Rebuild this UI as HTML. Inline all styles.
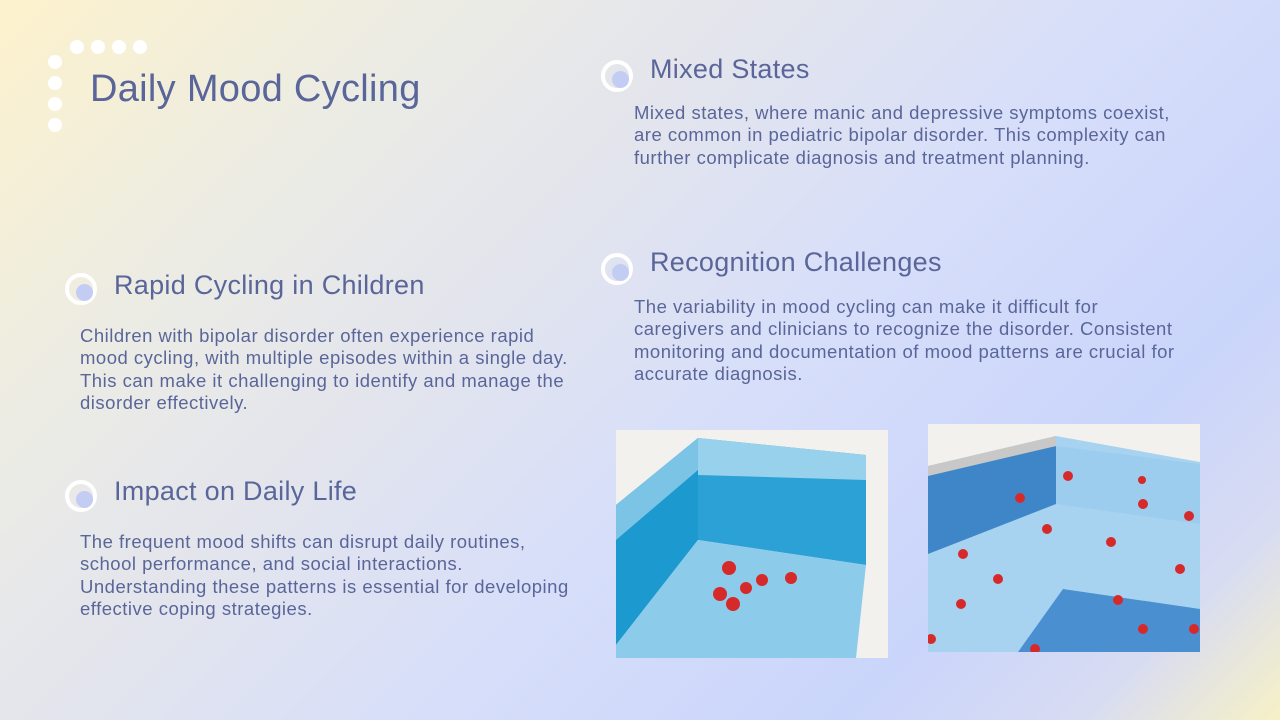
<!DOCTYPE html>
<html><head><meta charset="utf-8"><style>
*{margin:0;padding:0;box-sizing:border-box}
body{width:1280px;height:720px;overflow:hidden;font-family:"Liberation Sans",sans-serif;color:#5a6699;
background:linear-gradient(135deg,#fdf2cc 0%,#ececE4 22%,#e2e4ee 40%,#d6defa 58%,#cad5fb 78%,#d8dcf2 90%,#f7f1c6 100%);position:relative}
.dot{position:absolute;width:14px;height:14px;border-radius:50%;background:#fff}
.bul{position:absolute;width:32px;height:32px;border-radius:50%;border:4px solid #fff}
.bul::after{content:"";position:absolute;left:7px;top:7px;width:17px;height:17px;border-radius:50%;background:#c3cdf4}
h1{position:absolute;left:90px;top:68px;font-size:38px;font-weight:normal;white-space:nowrap;letter-spacing:0.3px}
h2{position:absolute;font-size:27px;font-weight:normal;white-space:nowrap;letter-spacing:0.3px}
p{position:absolute;font-size:18.5px;line-height:22.3px;white-space:nowrap;letter-spacing:0.5px}
svg.img{position:absolute}
</style></head><body>
<div>
<div class="dot" style="left:70px;top:40px"></div><div class="dot" style="left:91px;top:40px"></div><div class="dot" style="left:112px;top:40px"></div><div class="dot" style="left:133px;top:40px"></div>
<div class="dot" style="left:48px;top:55px"></div><div class="dot" style="left:48px;top:76px"></div><div class="dot" style="left:48px;top:97px"></div><div class="dot" style="left:48px;top:118px"></div>
</div>
<h1>Daily Mood Cycling</h1>

<div class="bul" style="left:65px;top:273px"></div>
<h2 style="left:114px;top:270px">Rapid Cycling in Children</h2>
<p style="left:80px;top:325px">Children with bipolar disorder often experience rapid<br>mood cycling, with multiple episodes within a single day.<br>This can make it challenging to identify and manage the<br>disorder effectively.</p>

<div class="bul" style="left:65px;top:480px"></div>
<h2 style="left:114px;top:476px">Impact on Daily Life</h2>
<p style="left:80px;top:531px">The frequent mood shifts can disrupt daily routines,<br>school performance, and social interactions.<br>Understanding these patterns is essential for developing<br>effective coping strategies.</p>

<div class="bul" style="left:601px;top:60px"></div>
<h2 style="left:650px;top:54px">Mixed States</h2>
<p style="left:634px;top:102px">Mixed states, where manic and depressive symptoms coexist,<br>are common in pediatric bipolar disorder. This complexity can<br>further complicate diagnosis and treatment planning.</p>

<div class="bul" style="left:601px;top:253px"></div>
<h2 style="left:650px;top:247px">Recognition Challenges</h2>
<p style="left:634px;top:296px">The variability in mood cycling can make it difficult for<br>caregivers and clinicians to recognize the disorder. Consistent<br>monitoring and documentation of mood patterns are crucial for<br>accurate diagnosis.</p>

<svg class="img" style="left:616px;top:430px" width="272" height="228" viewBox="0 0 272 228">
<rect width="272" height="228" fill="#f2f1ee"/>
<polygon points="0,75 82,8 82,110 0,215" fill="#1c9ad0"/>
<polygon points="0,75 82,8 82,40 0,110" fill="#7cc4e6"/>
<polygon points="82,8 250,25 250,135 82,110" fill="#2ba1d6"/>
<polygon points="82,8 250,25 250,50 82,45" fill="#98d1ec"/>
<polygon points="0,215 82,110 250,135 240,228 0,228" fill="#8ccbea"/>
<g fill="#d62a2a"><circle cx="113" cy="138" r="7"/><circle cx="130" cy="158" r="6"/><circle cx="146" cy="150" r="6"/><circle cx="175" cy="148" r="6"/><circle cx="104" cy="164" r="7"/><circle cx="117" cy="174" r="7"/></g>
</svg>
<svg class="img" style="left:928px;top:424px" width="272" height="228" viewBox="0 0 272 228">
<rect width="272" height="228" fill="#f2f1ee"/>
<polygon points="0,42 128,12 272,38 272,228 0,228" fill="#a8d3f0"/>
<polygon points="0,50 128,22 128,80 0,130" fill="#3f86c8"/>
<polygon points="0,42 128,12 128,22 0,52" fill="#c8c8c8"/>
<polygon points="128,22 272,40 272,100 128,80" fill="#9dcdee"/>
<polygon points="90,228 135,165 272,185 272,228" fill="#4a8fd0"/>
<g fill="#d62a2a"><circle cx="92" cy="74" r="5"/><circle cx="119" cy="105" r="5"/><circle cx="35" cy="130" r="5"/><circle cx="70" cy="155" r="5"/><circle cx="183" cy="118" r="5"/><circle cx="215" cy="80" r="5"/><circle cx="261" cy="92" r="5"/><circle cx="33" cy="180" r="5"/><circle cx="190" cy="176" r="5"/><circle cx="215" cy="205" r="5"/><circle cx="252" cy="145" r="5"/><circle cx="107" cy="225" r="5"/><circle cx="266" cy="205" r="5"/><circle cx="3" cy="215" r="5"/><circle cx="140" cy="52" r="5"/><circle cx="214" cy="56" r="4"/></g>
</svg>
</body></html>
